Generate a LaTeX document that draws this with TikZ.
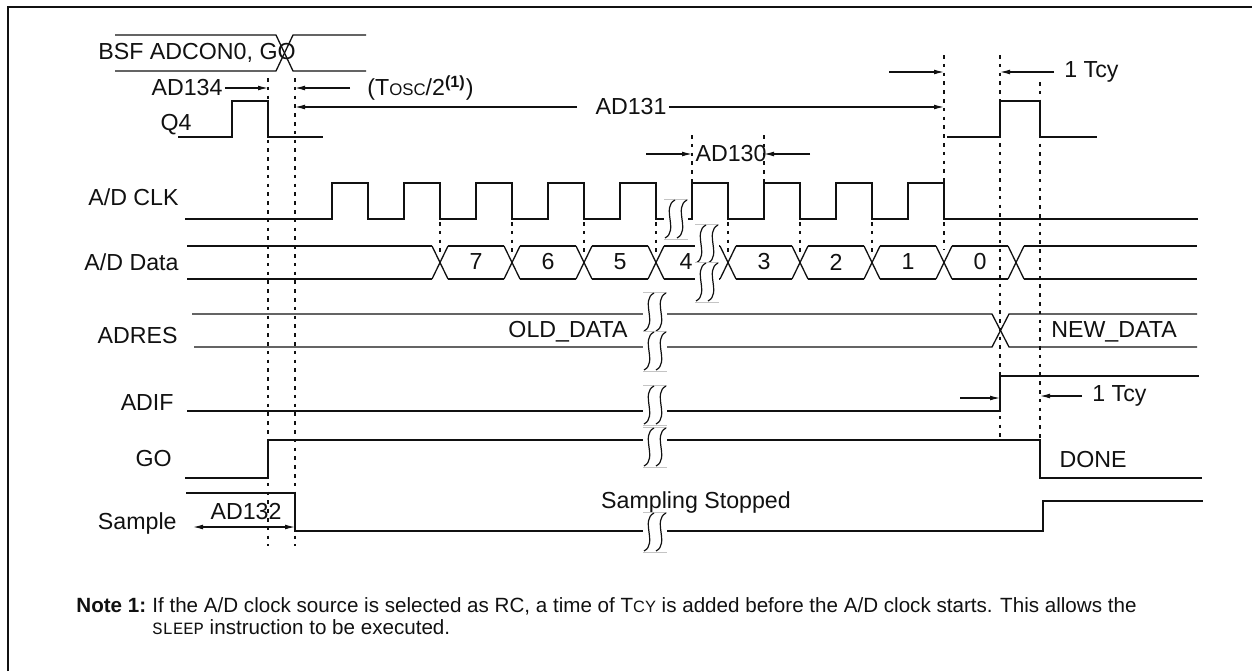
\documentclass[tikz,border=0pt]{standalone}
\usepackage{fontspec}
\setmainfont{Liberation Sans}
\setmonofont{Liberation Mono}
\usetikzlibrary{arrows.meta,positioning,calc}
\definecolor{ink}{HTML}{111111}
\definecolor{seam}{HTML}{C4C4C4}

\tikzset{
  sig/.style={draw=ink,line width=0.65pt},
  guide/.style={draw=ink,line width=0.8pt,dash pattern=on 1.8pt off 2.6pt},
  dim/.style={draw=ink,line width=0.55pt,-{Latex[length=5pt,width=2.4pt]}},
  dimboth/.style={draw=ink,line width=0.55pt,{Latex[length=5pt,width=2.4pt]}-{Latex[length=5pt,width=2.4pt]}},
  lbl/.style={font=\fontsize{11.6}{13}\selectfont,inner sep=1pt,text=ink},
  notetxt/.style={font=\fontsize{10.3}{12}\selectfont,inner sep=0pt,text=ink,anchor=base west},
  brk/.pic={
    \fill[white] (-12,-20) rectangle (12,20);
    \draw[seam,line width=0.3pt] (-12,-20) -- (12,-20) (-12,20) -- (12,20);
    \foreach \s in {-6,6}
      \draw[ink,line width=0.6pt] ({\s+5},-19) .. controls ({\s-9},-12) and ({\s+9},12) .. ({\s-5},19);
  }
}

\begin{document}
\begin{tikzpicture}[x=0.5pt,y=-0.5pt]
  \useasboundingbox (0,0) rectangle (1252,671);
  \draw[ink,line width=0.8pt] (8,671) -- (8,7) -- (1252,7);

  % guide lines
  \coordinate (d1) at (268,78);
  \coordinate (d2) at (295,78);
  \coordinate (d3) at (944,55);
  \coordinate (d4) at (1000,55);
  \coordinate (d5) at (1040,82);
  \coordinate (k1) at (692,135);
  \coordinate (k2) at (764,135);
  \draw[guide] (d1) -- ++(0,468) (d2) -- ++(0,468);
  \draw[guide] (d3) -- ++(0,195) (d4) -- ++(0,385) (d5) -- ++(0,358);
  \draw[guide] (k1) -- ++(0,48) (k2) -- ++(0,48);
  \foreach \k in {1,...,7}
    \draw[guide] ({368+72*\k},222) -- ++(0,30);

  % signal names
  \node[lbl,anchor=east] (q4lbl)     at (194,125) {Q4};
  \node[lbl,anchor=east] (clklbl)    at (181,197) {A/D CLK};
  \node[lbl,anchor=east] (datalbl)   at (181,262) {A/D Data};
  \node[lbl,anchor=east] (adreslbl)  at (180,336) {ADRES};
  \node[lbl,anchor=east] (adiflbl)   at (176,403) {ADIF};
  \node[lbl,anchor=east] (golbl)     at (174,459) {GO};
  \node[lbl,anchor=east] (samplelbl) at (179,523) {Sample};

  % BSF instruction bus
  \draw[sig] (115,35) -- (276,35) -- (293,71) -- (366,71);
  \draw[sig] (115,71) -- (276,71) -- (293,35) -- (366,35);
  \node[lbl] (bsf) at (197,53) {BSF ADCON0, GO};

  % Q4
  \draw[sig] (178,137) -- (232,137) -- (232,101) -- (268,101) -- (268,137) -- (323,137);
  \draw[sig] (947,137) -- (1000,137) -- (1000,101) -- (1040,101) -- (1040,137) -- (1097,137);

  % A/D CLK
  \draw[sig] (185,219) \foreach \k in {0,...,8} {
      -- ({332+72*\k},219) -- ({332+72*\k},183) -- ({368+72*\k},183) -- ({368+72*\k},219)}
    -- (1198,219);

  % A/D Data
  \foreach \k in {0,...,8}
    \draw[sig] ({432+72*\k},246) -- ({448+72*\k},279) ({432+72*\k},279) -- ({448+72*\k},246);
  \foreach \k in {0,...,7}
    \draw[sig] ({448+72*\k},246) -- ({504+72*\k},246) ({448+72*\k},279) -- ({504+72*\k},279);
  \draw[sig] (187,246) -- (432,246) (187,279) -- (432,279);
  \draw[sig] (1024,246) -- (1197,246) (1024,279) -- (1197,279);
  \foreach \d [count=\k from 0] in {7,6,5,4,3,2,1,0}
    \node[lbl] (bit\d) at ({476+72*\k-(\d==4)*6},262) {\d};

  % ADRES
  \draw[sig] (192,314) -- (992,314) -- (1009,347) -- (1197,347);
  \draw[sig] (194,347) -- (992,347) -- (1009,314) -- (1197,314);
  \node[lbl] (olddata) at (568,332) {OLD\_DATA};
  \node[lbl] (newdata) at (1114,332) {NEW\_DATA};

  % ADIF, GO, Sample
  \draw[sig] (187,411) -- (1000,411) -- (1000,376) -- (1199,376);
  \draw[sig] (185,478) -- (268,478) -- (268,440) -- (1040,440) -- (1040,478) -- (1202,478);
  \draw[sig] (186,493) -- (295,493) -- (295,531) -- (1043,531) -- (1043,501) -- (1203,501);
  \node[lbl] (done) at (1093,460) {DONE};
  \node[lbl] (stopped) at (696,502) {Sampling Stopped};

  % breaks
  \pic at (676,219) {brk};
  \pic at (707,244) {brk};
  \pic at (707,282) {brk};
  \foreach \y in {312,351,405,447,532}
    \pic at (655,\y) {brk};

  % timing marks
  \node[lbl] (ad134) at (187,88) {AD134};
  \draw[dim] (ad134.east) -- (ad134.east -| d1);
  \node[lbl,anchor=west] (tosc) at (365,88) {(T{\fontsize{8.4}{9}\selectfont OSC}/2\textsuperscript{\textbf{(1)}})};
  \coordinate (toscarr) at (350,88);
  \draw[dim] (toscarr) -- (toscarr -| d2);
  \node[lbl] (ad131) at (631,107) {AD131};
  \draw[dim] ([xshift=-8pt]ad131.west) -- (ad131.west -| d2);
  \draw[dim] (ad131.east) -- (ad131.east -| d3);
  \coordinate (t3) at (889,72);
  \draw[dim] (t3) -- (t3 -| d3);
  \node[lbl,anchor=west] (tcytop) at (1062,72) {1 Tcy};
  \draw[dim] ([xshift=-4pt]tcytop.west) -- (tcytop.west -| d4);
  \node[lbl] (ad130) at (731,154) {AD130};
  \coordinate (a130l) at (646,154);
  \coordinate (a130r) at (810,154);
  \draw[dim] (a130l) -- (a130l -| k1);
  \draw[dim] (a130r) -- (a130r -| k2);
  \coordinate (f1) at (960,398);
  \draw[dim] (f1) -- (f1 -| d4);
  \node[lbl,anchor=west] (tcyadif) at (1090,396) {1 Tcy};
  \draw[dim] ([xshift=-4pt]tcyadif.west) -- (tcyadif.west -| d5);
  \node[lbl] (ad132) at (246,512) {AD132};
  \coordinate (s0) at (193,527);
  \draw[dimboth] (s0) -- (s0 -| d2);

  % note
  \node[notetxt] (note) at (76,612) {\textbf{Note 1:}};
  \node[notetxt] (notel1) at (152,612) {If the A/D clock source is selected as RC, a time of T{\fontsize{8.2}{9}\selectfont CY} is added before the A/D clock starts. This allows the};
  \node[notetxt] (notel2) at (152,634) {{\ttfamily\fontsize{8.6}{9}\selectfont SLEEP} instruction to be executed.};
\end{tikzpicture}
\end{document}
